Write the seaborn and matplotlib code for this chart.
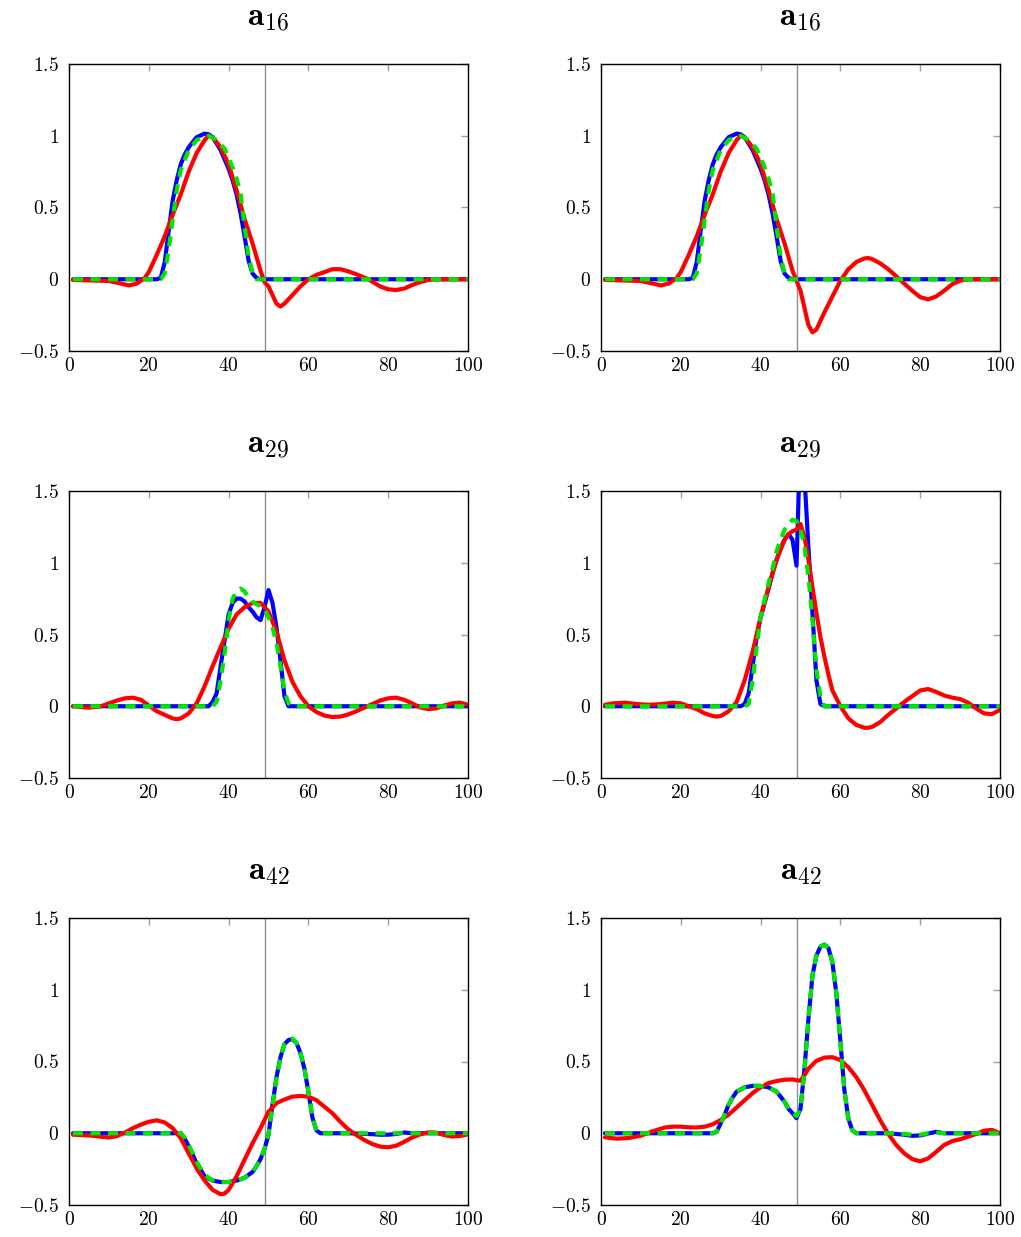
import matplotlib
matplotlib.use("Agg")
import matplotlib.pyplot as plt
import seaborn as sns
from matplotlib.ticker import FuncFormatter, FixedLocator

# ---------------- data ----------------
titles = [r"$\mathbf{a}_{16}$", r"$\mathbf{a}_{16}$",
          r"$\mathbf{a}_{29}$", r"$\mathbf{a}_{29}$",
          r"$\mathbf{a}_{42}$", r"$\mathbf{a}_{42}$"]
vline_x = 49
x_ticks = [0, 20, 40, 60, 80, 100]
y_ticks = [-0.5, 0, 0.5, 1, 1.5]

# panel 1 : a16 (left)
p1_blue_x = [1, 22, 23, 24, 25, 26, 27, 28, 29, 30, 32, 34, 35, 36, 38, 40, 41, 42, 43, 44, 45, 46, 47, 48, 100]
p1_blue_y = [0, 0, 0.01, 0.12, 0.34, 0.55, 0.69, 0.80, 0.87, 0.92, 0.99, 1.015, 1.01, 0.99, 0.90, 0.77, 0.69, 0.59, 0.46, 0.30, 0.13, 0.04, 0.01, 0, 0]
p1_green_x = [1, 23, 24, 25, 26, 27, 28, 30, 32, 35, 37, 39, 41, 42, 43, 44, 45, 46, 47, 100]
p1_green_y = [0, 0, 0.04, 0.21, 0.42, 0.62, 0.76, 0.90, 0.97, 1.0, 0.97, 0.91, 0.78, 0.70, 0.60, 0.37, 0.16, 0.04, 0.0, 0]
p1_red_x = [1, 5, 10, 13, 15, 17, 19, 20, 22, 24, 26, 28, 30, 32, 34, 35, 36, 38, 40, 42, 44, 46, 48, 49, 50, 51, 52, 53, 54,
            56, 58, 60, 62, 64, 66, 68, 70, 72, 75, 78, 80, 82, 84, 86, 88, 90, 92, 100]
p1_red_y = [-0.005, -0.008, -0.012, -0.03, -0.043, -0.03, 0.01, 0.05, 0.17, 0.30, 0.45, 0.59, 0.75, 0.88, 0.97, 1.0, 0.99,
            0.92, 0.80, 0.62, 0.42, 0.25, 0.06, -0.02, -0.05, -0.11, -0.17, -0.19, -0.17, -0.11, -0.05, 0.0, 0.03, 0.05,
            0.07, 0.07, 0.055, 0.035, 0.0, -0.05, -0.07, -0.075, -0.065, -0.04, -0.02, -0.005, 0, 0]

# panel 2 : a16 (right)
p2_blue_x = p1_blue_x
p2_blue_y = p1_blue_y
p2_green_x = p1_green_x
p2_green_y = p1_green_y
p2_red_x = [1, 5, 10, 13, 15, 17, 19, 20, 22, 24, 26, 28, 30, 32, 34, 35, 36, 38, 40, 42, 44, 46, 48, 49, 50, 51, 52, 53, 54,
            55, 56, 58, 60, 62, 64, 66, 67, 68, 70, 72, 74, 76, 78, 80, 82, 84, 86, 88, 90, 92, 100]
p2_red_y = [-0.005, -0.008, -0.012, -0.03, -0.043, -0.03, 0.01, 0.05, 0.17, 0.30, 0.45, 0.59, 0.75, 0.88, 0.97, 1.0, 0.99,
            0.92, 0.80, 0.62, 0.42, 0.25, 0.06, -0.01, -0.08, -0.20, -0.32, -0.37, -0.35, -0.29, -0.23, -0.12, -0.01,
            0.07, 0.12, 0.145, 0.148, 0.14, 0.11, 0.07, 0.02, -0.03, -0.08, -0.125, -0.14, -0.12, -0.08, -0.035, -0.01, 0, 0]

# panel 3 : a29 (left)
p3_blue_x = [1, 35, 36, 37, 38, 39, 40, 41, 42, 43, 44, 45, 46, 47, 48, 49, 50, 51, 52, 53, 54, 55, 100]
p3_blue_y = [0, 0, 0.03, 0.09, 0.28, 0.46, 0.64, 0.72, 0.75, 0.75, 0.73, 0.69, 0.66, 0.62, 0.60, 0.69, 0.81, 0.72, 0.55, 0.32, 0.07, 0.0, 0]
p3_green_x = [1, 36, 37, 38, 39, 40, 41, 42, 43, 44, 45, 46, 47, 48, 49, 50, 51, 52, 53, 54, 55, 56, 100]
p3_green_y = [0, 0, 0.03, 0.18, 0.37, 0.60, 0.75, 0.80, 0.82, 0.80, 0.76, 0.73, 0.71, 0.70, 0.68, 0.62, 0.55, 0.44, 0.28, 0.11, 0.02, 0, 0]
p3_red_x = [1, 5, 8, 10, 12, 14, 16, 18, 20, 22, 24, 26, 27, 28, 30, 32, 34, 36, 38, 40, 42, 44, 46, 47, 48, 50, 52, 54, 56,
            58, 60, 62, 64, 66, 68, 70, 72, 74, 76, 78, 80, 82, 84, 86, 88, 90, 92, 94, 96, 98, 100]
p3_red_y = [0.0, -0.01, 0.0, 0.02, 0.04, 0.055, 0.06, 0.045, 0.005, -0.035, -0.06, -0.085, -0.09, -0.085, -0.05, 0.02, 0.14,
            0.28, 0.41, 0.54, 0.64, 0.69, 0.72, 0.72, 0.72, 0.66, 0.52, 0.32, 0.17, 0.07, 0.0, -0.04, -0.065, -0.075,
            -0.072, -0.057, -0.035, -0.01, 0.015, 0.04, 0.055, 0.06, 0.045, 0.02, -0.008, -0.02, -0.015, 0.005, 0.02,
            0.025, 0.01]

# panel 4 : a29 (right)
p4_blue_x = [1, 35, 36, 37, 38, 39, 40, 41, 42, 43, 44, 45, 46, 47, 48, 49, 50, 51, 52, 53, 54, 55, 56, 100]
p4_blue_y = [0, 0, 0.015, 0.09, 0.28, 0.48, 0.62, 0.72, 0.82, 0.93, 1.02, 1.10, 1.16, 1.20, 1.16, 0.98, 1.9, 1.6, 1.1,
             0.65, 0.18, 0.015, 0, 0]
p4_green_x = [1, 36, 37, 38, 39, 40, 41, 42, 43, 44, 45, 46, 47, 48, 49, 50, 51, 52, 53, 54, 55, 56, 100]
p4_green_y = [0, 0, 0.015, 0.18, 0.41, 0.62, 0.74, 0.86, 0.96, 1.08, 1.16, 1.23, 1.27, 1.30, 1.29, 1.24, 1.11, 0.90, 0.60,
              0.25, 0.07, 0.0, 0]
p4_red_x = [1, 3, 6, 9, 12, 15, 18, 20, 22, 24, 26, 28, 29, 30, 32, 34, 36, 38, 40, 42, 44, 46, 47, 48, 49, 50, 51, 52, 53,
            54, 55, 56, 57, 58, 60, 62, 64, 66, 67, 68, 70, 72, 74, 76, 78, 80, 82, 84, 86, 88, 90, 92, 94, 96, 98, 100]
p4_red_y = [0.01, 0.02, 0.025, 0.015, 0.01, 0.015, 0.025, 0.02, 0.0, -0.02, -0.05, -0.068, -0.072, -0.068, -0.035, 0.03,
            0.18, 0.38, 0.62, 0.83, 1.02, 1.16, 1.20, 1.22, 1.23, 1.27, 1.18, 1.02, 0.83, 0.65, 0.48, 0.345, 0.22, 0.11,
            0.0, -0.085, -0.13, -0.15, -0.15, -0.143, -0.11, -0.06, -0.015, 0.03, 0.07, 0.11, 0.12, 0.10, 0.075, 0.06,
            0.05, 0.025, -0.015, -0.05, -0.055, -0.025]

# panel 5 : a42 (left)
p5_blue_x = [1, 28, 29, 30, 31, 32, 34, 36, 38, 40, 42, 44, 46, 47, 48, 49, 50, 51, 52, 53, 54, 55, 56, 57, 58, 59, 60, 61,
             62, 63, 70, 75, 78, 80, 82, 84, 86, 100]
p5_blue_y = [0, 0, -0.04, -0.09, -0.15, -0.21, -0.30, -0.33, -0.34, -0.34, -0.33, -0.31, -0.27, -0.23, -0.18, -0.11, -0.01,
             0.20, 0.39, 0.53, 0.62, 0.65, 0.655, 0.63, 0.56, 0.45, 0.29, 0.11, 0.02, 0.0, 0, -0.005, -0.01, -0.01,
             -0.005, 0.005, 0, 0]
p5_green_x = [1, 28, 29, 30, 31, 32, 34, 36, 38, 40, 42, 44, 46, 47, 48, 49, 50, 51, 52, 53, 54, 55, 56, 57, 58, 59, 60, 61,
              62, 63, 100]
p5_green_y = [0, 0, -0.03, -0.08, -0.14, -0.20, -0.29, -0.33, -0.34, -0.34, -0.33, -0.31, -0.27, -0.23, -0.18, -0.11, -0.01,
              0.19, 0.38, 0.53, 0.62, 0.655, 0.66, 0.63, 0.56, 0.45, 0.29, 0.11, 0.02, 0.0, 0]
p5_red_x = [1, 5, 10, 12, 14, 16, 18, 20, 22, 24, 26, 28, 30, 32, 34, 36, 38, 39, 40, 42, 44, 46, 48, 50, 52, 54, 56, 58, 60,
            62, 64, 66, 68, 70, 72, 74, 76, 78, 80, 82, 84, 86, 88, 90, 92, 94, 96, 98, 100]
p5_red_y = [-0.01, -0.015, -0.03, -0.02, 0.005, 0.035, 0.06, 0.08, 0.09, 0.075, 0.035, -0.035, -0.14, -0.245, -0.33, -0.395,
            -0.425, -0.42, -0.395, -0.30, -0.185, -0.07, 0.035, 0.15, 0.21, 0.235, 0.255, 0.26, 0.255, 0.23, 0.185, 0.14,
            0.08, 0.027, -0.012, -0.047, -0.075, -0.093, -0.098, -0.087, -0.06, -0.03, -0.008, 0.006, 0.004, -0.012,
            -0.023, -0.019, -0.008]

# panel 6 : a42 (right)
p6_blue_x = [1, 28, 29, 30, 31, 32, 33, 34, 36, 38, 40, 42, 44, 46, 47, 48, 49, 50, 51, 52, 53, 54, 55, 56, 57, 58, 59, 60,
             61, 62, 63, 64, 72, 76, 78, 80, 82, 84, 86, 100]
p6_blue_y = [0, 0, 0.01, 0.07, 0.13, 0.20, 0.25, 0.29, 0.32, 0.33, 0.33, 0.32, 0.29, 0.22, 0.17, 0.14, 0.105, 0.17, 0.45,
             0.80, 1.10, 1.24, 1.30, 1.315, 1.29, 1.19, 0.97, 0.64, 0.30, 0.10, 0.02, 0.0, 0, -0.01, -0.018, -0.015,
             -0.002, 0.01, 0.0, 0]
p6_green_x = [1, 28, 29, 30, 31, 32, 33, 34, 36, 38, 40, 42, 44, 46, 47, 48, 49, 50, 51, 52, 53, 54, 55, 56, 57, 58, 59, 60,
              61, 62, 63, 64, 72, 76, 78, 80, 82, 84, 86, 100]
p6_green_y = [0, 0, 0.01, 0.07, 0.13, 0.20, 0.25, 0.29, 0.32, 0.33, 0.33, 0.32, 0.29, 0.22, 0.17, 0.14, 0.12, 0.17, 0.44,
              0.80, 1.10, 1.24, 1.30, 1.315, 1.29, 1.19, 0.97, 0.64, 0.30, 0.10, 0.02, 0.0, 0, -0.005, -0.01, -0.01,
              0.0, 0.005, 0.0, 0]
p6_red_x = [1, 4, 7, 10, 12, 14, 16, 18, 20, 22, 24, 26, 28, 30, 32, 34, 36, 38, 40, 42, 44, 46, 48, 49, 50, 51, 52, 54, 56,
            58, 60, 62, 64, 66, 68, 70, 72, 74, 76, 78, 80, 82, 84, 86, 88, 90, 92, 94, 96, 98, 100]
p6_red_y = [-0.028, -0.038, -0.033, -0.017, 0.004, 0.023, 0.04, 0.046, 0.046, 0.041, 0.04, 0.046, 0.062, 0.093, 0.13, 0.18,
            0.23, 0.28, 0.32, 0.35, 0.364, 0.373, 0.375, 0.37, 0.366, 0.405, 0.45, 0.505, 0.527, 0.53, 0.51, 0.46, 0.39,
            0.30, 0.195, 0.09, -0.005, -0.082, -0.14, -0.18, -0.196, -0.175, -0.13, -0.082, -0.055, -0.042, -0.024,
            -0.005, 0.018, 0.023, 0.0]

panels = [
    (p1_blue_x, p1_blue_y, p1_red_x, p1_red_y, p1_green_x, p1_green_y),
    (p2_blue_x, p2_blue_y, p2_red_x, p2_red_y, p2_green_x, p2_green_y),
    (p3_blue_x, p3_blue_y, p3_red_x, p3_red_y, p3_green_x, p3_green_y),
    (p4_blue_x, p4_blue_y, p4_red_x, p4_red_y, p4_green_x, p4_green_y),
    (p5_blue_x, p5_blue_y, p5_red_x, p5_red_y, p5_green_x, p5_green_y),
    (p6_blue_x, p6_blue_y, p6_red_x, p6_red_y, p6_green_x, p6_green_y),
]

# ---------------- style ----------------
sns.set_theme(style="white")
plt.rcParams["font.family"] = ["DejaVu Serif"]
plt.rcParams["mathtext.fontset"] = "cm"
plt.rcParams["text.color"] = "black"

W, H = 1021, 1237
fig = plt.figure(figsize=(W / 100, H / 100), dpi=100)
fig.patch.set_facecolor("white")

lefts_px = [69, 601]
tops_px = [64, 491, 918]
ax_w_px, ax_h_px = 399, 287

fmt = FuncFormatter(lambda v, p: f"${v:g}$")

for i, (bx, by, rx, ry, gx, gy) in enumerate(panels):
    r, c = divmod(i, 2)
    rect = [lefts_px[c] / W, 1 - (tops_px[r] + ax_h_px) / H, ax_w_px / W, ax_h_px / H]
    ax = fig.add_axes(rect)
    ax.set_facecolor("white")
    ax.axvline(vline_x, color="#8f8f8f", lw=1.0, zorder=1)
    sns.lineplot(x=bx, y=by, ax=ax, color="#0000ff", lw=3.0, estimator=None, sort=False, zorder=3,
                 solid_joinstyle="round", solid_capstyle="round")
    sns.lineplot(x=rx, y=ry, ax=ax, color="#ff0000", lw=3.0, estimator=None, sort=False, zorder=4,
                 solid_joinstyle="round", solid_capstyle="round")
    sns.lineplot(x=gx, y=gy, ax=ax, color="#00e600", lw=3.0, estimator=None, sort=False, zorder=5,
                 linestyle=(0, (2.4, 1.8)), dash_joinstyle="round")
    ax.set_xlim(0, 100)
    ax.set_ylim(-0.5, 1.5)
    ax.xaxis.set_major_locator(FixedLocator(x_ticks))
    ax.yaxis.set_major_locator(FixedLocator(y_ticks))
    ax.xaxis.set_major_formatter(fmt)
    ax.yaxis.set_major_formatter(fmt)
    ax.tick_params(axis="both", direction="in", top=True, right=True, length=5, width=1.0,
                   color="#a0a0a0", labelcolor="black", labelsize=14)
    ax.tick_params(axis="x", pad=4)
    ax.tick_params(axis="y", pad=7)
    for s in ax.spines.values():
        s.set_visible(True)
        s.set_color("black")
        s.set_linewidth(1.0)
        s.set_zorder(6)
    ax.set_xlabel("")
    ax.set_ylabel("")
    ax.grid(False)
    ax.set_title(titles[i], fontsize=24, pad=28, color="black")

fig.savefig("out.png", dpi=100, facecolor="white")
